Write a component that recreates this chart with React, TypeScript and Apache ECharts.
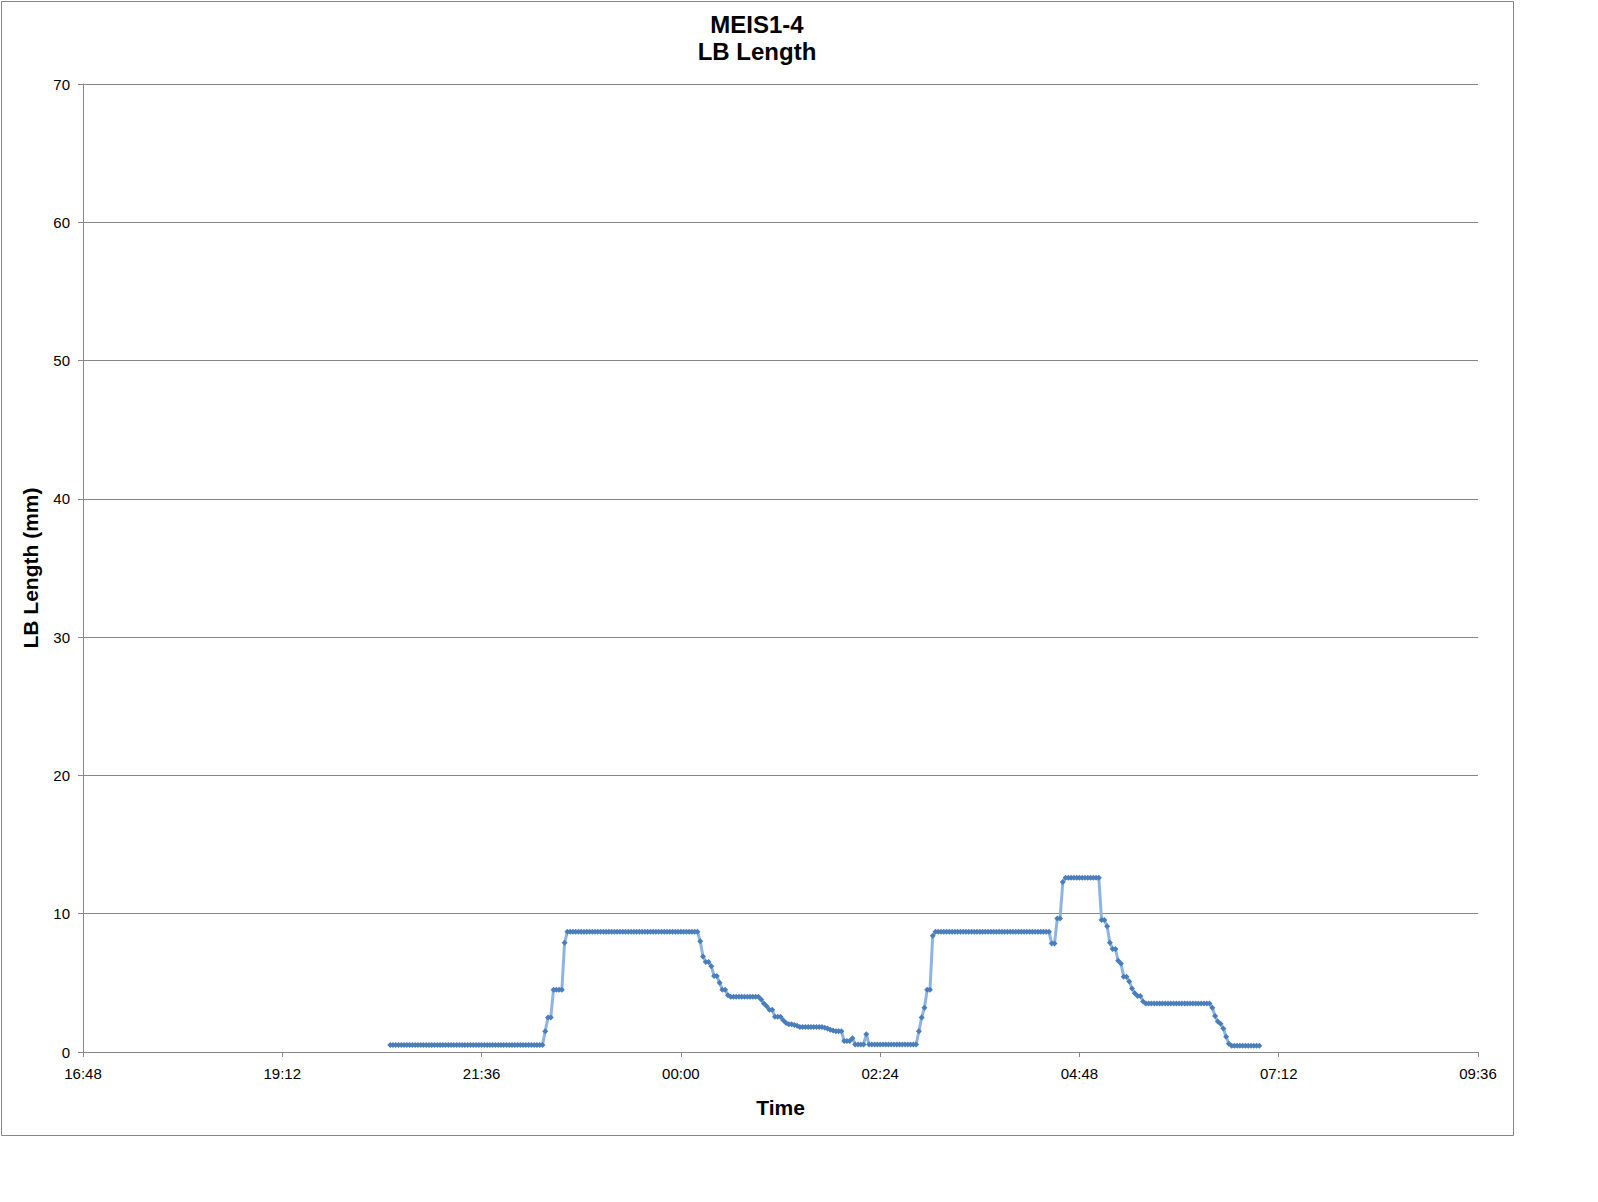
import React, { useEffect, useRef } from "react";
import * as echarts from "echarts";

// Chart texts
const titleLines = ["MEIS1-4", "LB Length"];
const xAxisTitle = "Time";
const yAxisTitle = "LB Length (mm)";

// X axis: minutes of day (16:48 .. 09:36 next day), tick every 2:24
const xMin = 1008;
const xMax = 2016;
const xInterval = 144;
const yMin = 0;
const yMax = 70;
const yInterval = 10;

// Samples: first sample at 20:30, one every 2 minutes
const sampleStart = 1230;
const sampleStep = 2;

// Values, as [count, value] runs in time order
const valueRuns: [number, number][] = [
  [56, 0.5],
  [1, 1.5], [2, 2.5], [4, 4.5], [1, 7.9],
  [48, 8.7],
  [1, 8.0], [1, 6.9], [2, 6.5], [1, 6.2], [2, 5.5], [1, 5.0], [2, 4.5], [1, 4.1],
  [11, 4.0],
  [1, 3.8], [1, 3.5], [1, 3.3], [2, 3.05], [3, 2.55], [1, 2.3], [1, 2.1], [2, 2.0], [1, 1.95], [1, 1.9],
  [9, 1.8],
  [1, 1.75], [1, 1.7], [1, 1.6], [1, 1.55], [3, 1.5],
  [3, 0.8], [1, 1.0], [4, 0.55], [1, 1.28],
  [18, 0.55],
  [1, 1.5], [1, 2.5], [1, 3.2], [2, 4.5], [1, 8.4],
  [42, 8.7],
  [2, 7.85], [2, 9.65], [1, 12.3],
  [13, 12.6],
  [2, 9.55], [1, 9.1], [1, 7.9], [2, 7.45], [1, 6.6], [1, 6.4], [2, 5.45], [1, 5.1], [1, 4.6], [1, 4.25], [2, 4.05], [1, 3.65],
  [24, 3.5],
  [1, 3.2], [1, 2.6], [1, 2.2], [1, 2.05], [1, 1.7], [1, 1.1], [1, 0.6],
  [11, 0.45],
];

function expandRuns(runs: [number, number][]): number[] {
  const out: number[] = [];
  runs.forEach(([n, v]) => {
    for (let k = 0; k < n; k++) out.push(v);
  });
  return out;
}

const values = expandRuns(valueRuns);
const times = values.map((_, i) => sampleStart + i * sampleStep);

function fmtTime(m: number): string {
  const mm = ((Math.round(m) % 1440) + 1440) % 1440;
  const h = Math.floor(mm / 60);
  const mi = mm % 60;
  return String(h).padStart(2, "0") + ":" + String(mi).padStart(2, "0");
}

const FONT = "'Liberation Sans', Arial, sans-serif";
const GRAY = "#868686";

export default function App() {
  const ref = useRef<HTMLDivElement>(null);
  useEffect(() => {
    document.body.style.margin = "0";
    if (!ref.current) return;
    const chart = echarts.init(ref.current, undefined, { renderer: "svg" });
    chart.setOption({
      animation: false,
      backgroundColor: "#ffffff",
      textStyle: { fontFamily: FONT },
      graphic: [
        {
          type: "rect",
          shape: { x: 1.5, y: 1.5, width: 1512, height: 1134 },
          style: { fill: "none", stroke: GRAY, lineWidth: 1 },
          silent: true,
        },
        {
          type: "text",
          x: 757,
          y: 11,
          style: {
            text: titleLines.join("\n"),
            font: `bold 24px ${FONT}`,
            fill: "#000",
            align: "center",
            verticalAlign: "top",
            lineHeight: 27,
          },
        },
      ],
      grid: { left: 83, top: 84, width: 1395, height: 968, containLabel: false },
      xAxis: {
        type: "value",
        min: xMin,
        max: xMax,
        interval: xInterval,
        name: xAxisTitle,
        nameLocation: "middle",
        nameGap: 45,
        nameTextStyle: { fontFamily: FONT, fontSize: 21, fontWeight: "bold", color: "#000" },
        axisLine: { show: true, lineStyle: { color: GRAY, width: 1 } },
        axisTick: { show: true, length: 5, lineStyle: { color: GRAY } },
        splitLine: { show: false },
        axisLabel: {
          formatter: (v: number) => fmtTime(v),
          fontFamily: FONT,
          fontSize: 15,
          color: "#000",
          margin: 14,
        },
      },
      yAxis: {
        type: "value",
        min: yMin,
        max: yMax,
        interval: yInterval,
        name: yAxisTitle,
        nameLocation: "middle",
        nameGap: 42,
        nameRotate: 90,
        nameTextStyle: { fontFamily: FONT, fontSize: 21, fontWeight: "bold", color: "#000" },
        axisLine: { show: true, lineStyle: { color: GRAY, width: 1 } },
        axisTick: { show: true, length: 5, inside: false, lineStyle: { color: GRAY } },
        splitLine: { show: true, lineStyle: { color: GRAY, width: 1 } },
        axisLabel: { fontFamily: FONT, fontSize: 15, color: "#000", margin: 13 },
      },
      series: [
        {
          type: "line",
          data: times.map((t, i) => [t, values[i]]),
          symbol: "diamond",
          symbolSize: 6,
          showAllSymbol: true,
          itemStyle: { color: "#4A7EBB" },
          lineStyle: { color: "#8EB4E3", width: 3 },
        },
      ],
    });
    return () => chart.dispose();
  }, []);
  return (
    <div
      ref={ref}
      style={{ position: "absolute", left: 0, top: 0, width: 1598, height: 1202 }}
    />
  );
}
